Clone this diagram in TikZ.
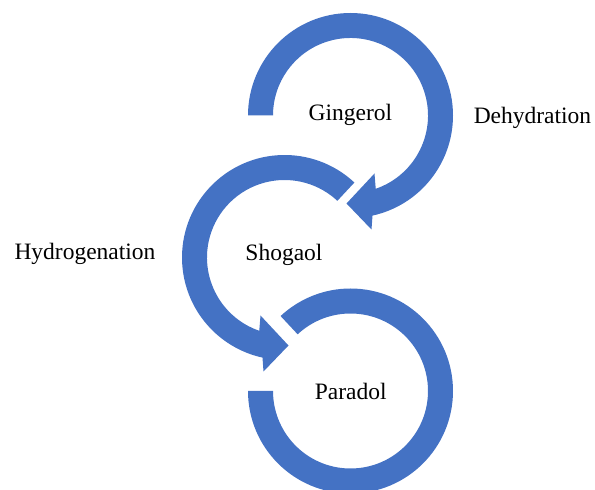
\documentclass[tikz,border=0pt]{standalone}
\usepackage{fontspec}
\setmainfont{Liberation Serif}
\usetikzlibrary{calc}
\definecolor{sablue}{HTML}{4472C4}
\begin{document}
\begin{tikzpicture}[x=1pt,y=1pt,
  ring/.style={fill=sablue},
  lbl/.style={font=\fontsize{23.5}{28}\selectfont, anchor=base, inner sep=0pt}]
\useasboundingbox (0,0) rectangle (595,490);
\clip (0,0) rectangle (595,490);
\coordinate (c1) at (350.5,374.5);
\coordinate (c2) at (284.5,232.5);
\coordinate (c3) at (350.5,99);

% Gingerol ring with arrowhead
\fill[ring] ($(c1)+(180:102.5)$) arc[start angle=180,end angle=-77.6,radius=102.5pt]
  -- ($(c1)+(21,-114)$) -- ($(c1)+(-4,-88)$) -- ($(c1)+(24,-58)$)
  -- ($(c1)+(-71:77.5)$) arc[start angle=-71,end angle=180,radius=77.5pt] -- cycle;

% Shogaol ring with arrowhead
\fill[ring] ($(c2)+(47:102.5)$) arc[start angle=47,end angle=257.6,radius=102.5pt]
  -- ($(c2)+(-21,-114)$) -- ($(c2)+(4,-88)$) -- ($(c2)+(-24,-58)$)
  -- ($(c2)+(251:77.5)$) arc[start angle=251,end angle=47,radius=77.5pt] -- cycle;

% Paradol ring
\fill[ring] ($(c3)+(180:102.5)$) arc[start angle=180,end angle=493,radius=102.5pt]
  -- ($(c3)+(133:77.5)$) arc[start angle=493,end angle=180,radius=77.5pt] -- cycle;

\node[lbl] (ging) at (350.5,369.3) {Gingerol};
\node[lbl] (shog) at (284,229) {Shogaol};
\node[lbl] (para) at (350.8,90) {Paradol};
\node[lbl] (dehy) at (532.5,366.7) {Dehydration};
\node[lbl] (hydro) at (85,230.7) {Hydrogenation};
\end{tikzpicture}
\end{document}
